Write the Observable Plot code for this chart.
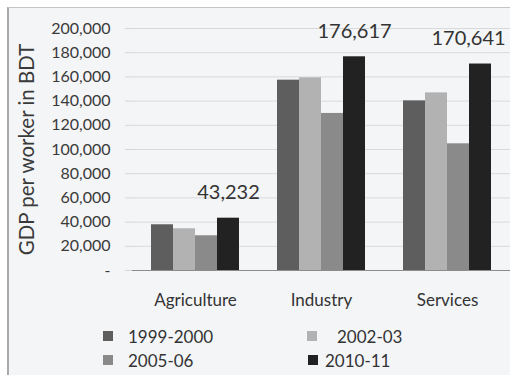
<!DOCTYPE html>
<html><head><meta charset="utf-8">
<script src="https://cdn.jsdelivr.net/npm/d3@7"></script>
<script src="https://cdn.jsdelivr.net/npm/@observablehq/plot@0.6"></script>
<style>
html,body{margin:0;padding:0;background:#fff;width:510px;height:375px;overflow:hidden;font-family:Lato,"Open Sans",sans-serif;}
#frame{position:absolute;left:7px;top:7px;width:520px;height:380px;background:#f4f5f7;border-left:2px solid #a9a9a9;border-top:1px solid #c4c4c4;}
#chart{position:absolute;left:0;top:0;}
.item{position:absolute;height:20px;font-size:17px;color:#333;display:flex;align-items:center;white-space:nowrap;}
</style></head>
<body>
<div id="frame"></div>
<div id="chart"></div>
<div id="legend"></div>
<script>
const categories = ["Agriculture", "Industry", "Services"];
const periods = ["1999-2000", "2002-03", "2005-06", "2010-11"];
const v1999 = [37800, 157300, 140200];
const v2002 = [34500, 159200, 146800];
const v2005 = [28700, 129800, 104700];
const v2010 = [43232, 176617, 170641];
const colors = ["#5e5e5e", "#b2b2b2", "#8a8a8a", "#222222"];
const yTicks = [0, 20000, 40000, 60000, 80000, 100000, 120000, 140000, 160000, 180000, 200000];
const yLabel = "GDP per worker in BDT";

const series = [v1999, v2002, v2005, v2010];
const rows = [];
categories.forEach((c, i) => periods.forEach((p, j) => rows.push({category: c, period: p, value: series[j][i]})));
const fmt = d3.format(",");
const labelRows = rows.filter(d => d.period === "2010-11");

const chart = Plot.plot({
  width: 510, height: 310,
  marginLeft: 132, marginRight: 0, marginTop: 28, marginBottom: 40,
  style: {background: "transparent", fontFamily: "Lato, 'Open Sans', sans-serif", color: "#333"},
  fx: {domain: categories, paddingInner: 0, paddingOuter: 0},
  x: {domain: periods, paddingInner: 0, paddingOuter: 0.74, axis: null},
  y: {domain: [0, 200000]},
  color: {domain: periods, range: colors},
  marks: [
    Plot.gridY(yTicks, {stroke: "#d9d9d9", strokeOpacity: 1}),
    Plot.axisY(yTicks, {tickFormat: d => d === 0 ? "-" : fmt(d), tickSize: 7, tickPadding: 15, stroke: "#d6d6d6", fill: "#3a3a3a", fontSize: 16, line: true, label: null}),
    Plot.text([yLabel], {fx: () => categories[0], text: d => d, frameAnchor: "left", rotate: -90, dx: -105, textAnchor: "middle", lineAnchor: "middle", fontSize: 20.5, fill: "#3a3a3a"}),
    Plot.axisFx({anchor: "bottom", fontSize: 17, tickSize: 0, tickPadding: 23, label: null, fill: "#333"}),
    Plot.barY(rows, {fx: "category", x: "period", y: "value", fill: "period"}),
    Plot.ruleY([0], {stroke: "#8c8c8c"}),
    Plot.ruleX(categories, {fx: d => d, y1: 0, y2: -3500, dx: -63, stroke: "#8c8c8c"}),
    Plot.ruleX([categories[2]], {fx: d => d, y1: 0, y2: -3500, dx: 62.5, stroke: "#8c8c8c"}),
    Plot.text(labelRows.filter(d => d.category !== "Services"), {fx: "category", x: "period", y: "value", text: d => fmt(d.value), lineAnchor: "bottom", dy: -19, fontSize: 20, fill: "#333"}),
    Plot.text(labelRows.filter(d => d.category === "Services"), {fx: "category", x: "period", y: "value", text: d => fmt(d.value), lineAnchor: "bottom", dy: -19, dx: -12, fontSize: 20, fill: "#333"})
  ]
});
document.getElementById("chart").appendChild(chart);

const legendPos = [
  {sw: 103, tx: 128, top: 326},
  {sw: 307, tx: 337, top: 326},
  {sw: 103, tx: 128, top: 350},
  {sw: 308, tx: 325, top: 350}
];
const legend = document.getElementById("legend");
periods.forEach((p, i) => {
  const pos = legendPos[i];
  const sw = document.createElement("div");
  sw.style.cssText = `position:absolute;left:${pos.sw}px;top:${pos.top + 5}px;width:10px;height:10px;background:${colors[i]}`;
  legend.appendChild(sw);
  const t = document.createElement("div");
  t.className = "item";
  t.style.left = pos.tx + "px";
  t.style.top = pos.top + "px";
  t.textContent = p;
  legend.appendChild(t);
});
</script>
</body></html>
